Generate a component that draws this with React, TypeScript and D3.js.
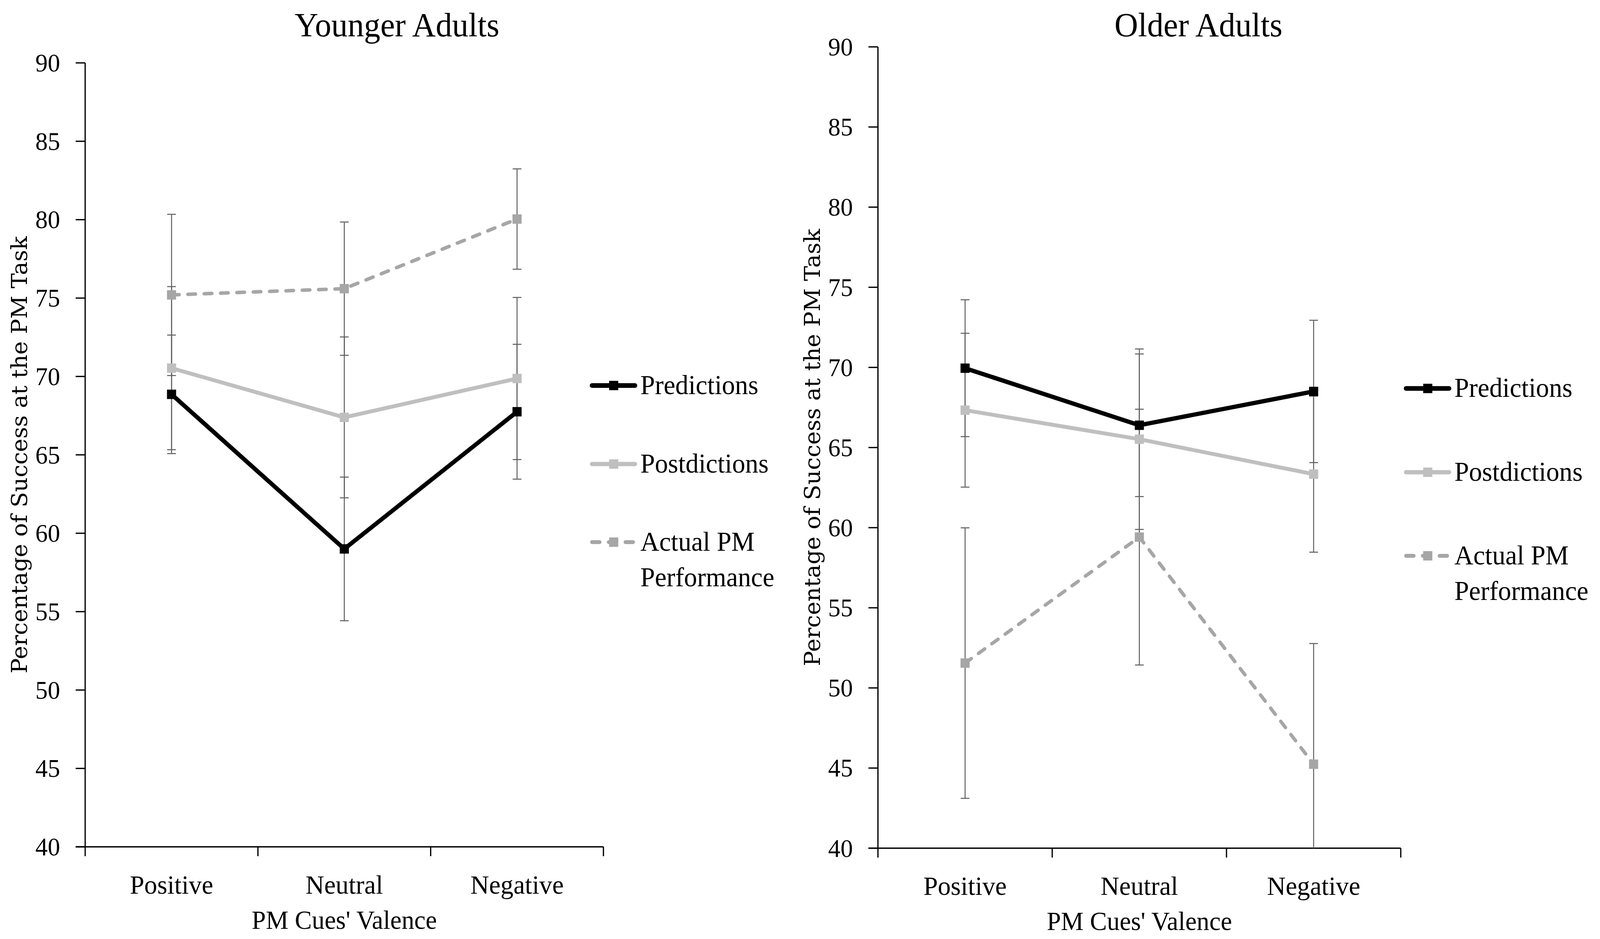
import React from 'react';
import * as d3 from 'd3';

// ---------- data ----------
const categories = ['Positive', 'Neutral', 'Negative'];
const yTicks = [40, 45, 50, 55, 60, 65, 70, 75, 80, 85, 90];
const seriesNames = ['Predictions', 'Postdictions', 'Actual PM Performance'];

const youngerPredictions = [68.86, 59.0, 67.75];
const youngerPredictionsErr = [3.78, 4.58, 4.3];
const youngerPostdictions = [70.53, 67.39, 69.87];
const youngerPostdictionsErr = [5.2, 5.13, 5.17];
const youngerActual = [75.2, 75.6, 80.04];
const youngerActualErr = [5.14, 4.25, 3.2];

const olderPredictions = [69.95, 66.39, 68.5];
const olderPredictionsErr = [4.27, 4.45, 4.44];
const olderPostdictions = [67.33, 65.52, 63.34];
const olderPostdictionsErr = [4.8, 5.63, 4.87];
const olderActual = [51.55, 59.41, 45.24];
const olderActualErr = [8.44, 7.98, 7.53];

// ---------- styles ----------
const seriesStyles = [
  { color: '#000000', width: 11, dash: undefined as string | undefined },
  { color: '#bfbfbf', width: 10, dash: undefined as string | undefined },
  { color: '#a6a6a6', width: 9, dash: '20 23' },
];
const SERIF = '"Liberation Serif", "Times New Roman", serif';
const WIDE_SERIF = '"DejaVu Serif", serif';

type PanelProps = {
  title: string;
  values: number[][];
  errors: number[][];
  x0: number;
  x1: number;
  y0: number;
  y1: number;
  titleX: number;
  yLabelX: number;
  legendX: number;
  legendY: number[];
};

function Panel(p: PanelProps) {
  const x = d3.scaleBand<string>().domain(categories).range([p.x0, p.x1]).padding(0);
  const y = d3.scaleLinear().domain([40, 90]).range([p.y1, p.y0]);
  const bw = x.bandwidth();
  const cx = (c: string) => (x(c) as number) + bw / 2;
  const yMin = y.domain()[0];
  const line = d3
    .line<number>()
    .x((_, i) => cx(categories[i]))
    .y((v) => y(v));

  const boundaries = d3.range(categories.length + 1).map((i) => p.x0 + i * bw);
  const plotMidX = (p.x0 + p.x1) / 2;
  const plotMidY = (p.y0 + p.y1) / 2;

  return (
    <g>
      <text x={p.titleX} y={93} textAnchor="middle" fontFamily={SERIF} fontSize={86} fill="#000">
        {p.title}
      </text>

      {/* y axis */}
      <line x1={p.x0} x2={p.x0} y1={p.y0} y2={p.y1} stroke="#000" strokeWidth={3.3} />
      {yTicks.map((t) => (
        <g key={t}>
          <line x1={p.x0 - 25} x2={p.x0} y1={y(t)} y2={y(t)} stroke="#000" strokeWidth={3.3} />
          <text
            x={p.x0 - 66}
            y={y(t)}
            dy="0.34em"
            textAnchor="end"
            fontFamily={SERIF}
            fontSize={65}
            fill="#000"
          >
            {t}
          </text>
        </g>
      ))}
      <text
        transform={`translate(${p.yLabelX},${plotMidY}) rotate(-90)`}
        textAnchor="middle"
        fontFamily={WIDE_SERIF}
        fontSize={58}
        fill="#000"
      >
        Percentage of Success at the PM Task
      </text>

      {/* x axis */}
      <line x1={p.x0 - 25} x2={p.x1} y1={p.y1} y2={p.y1} stroke="#000" strokeWidth={3.3} />
      {boundaries.map((b, i) => (
        <line key={i} x1={b} x2={b} y1={p.y1} y2={p.y1 + 24} stroke="#000" strokeWidth={3.3} />
      ))}
      {categories.map((c) => (
        <text
          key={c}
          x={cx(c)}
          y={p.y1 + 120}
          textAnchor="middle"
          fontFamily={SERIF}
          fontSize={68}
          fill="#000"
        >
          {c}
        </text>
      ))}
      <text x={plotMidX} y={p.y1 + 210} textAnchor="middle" fontFamily={SERIF} fontSize={67} fill="#000">
        PM Cues' Valence
      </text>

      {/* error bars */}
      {p.values.map((vals, s) =>
        vals.map((v, i) => {
          const e = p.errors[s][i];
          const hi = v + e;
          const lo = v - e;
          const X = cx(categories[i]);
          const loC = Math.max(lo, yMin);
          return (
            <g key={`e${s}-${i}`} stroke="#606060" strokeWidth={2.6}>
              <line x1={X} x2={X} y1={y(hi)} y2={y(loC)} />
              <line x1={X - 11.5} x2={X + 11.5} y1={y(hi)} y2={y(hi)} />
              {lo >= yMin && <line x1={X - 11.5} x2={X + 11.5} y1={y(lo)} y2={y(lo)} />}
            </g>
          );
        })
      )}

      {/* lines and markers */}
      {p.values.map((vals, s) => {
        const st = seriesStyles[s];
        return (
          <g key={`s${s}`}>
            <path
              d={line(vals) || ''}
              fill="none"
              stroke={st.color}
              strokeWidth={st.width}
              strokeDasharray={st.dash}
              strokeLinecap={st.dash ? 'round' : 'butt'}
              strokeLinejoin="round"
            />
            {vals.map((v, i) => (
              <rect
                key={i}
                x={cx(categories[i]) - 12}
                y={y(v) - 12}
                width={24}
                height={24}
                fill={st.color}
              />
            ))}
          </g>
        );
      })}

      {/* legend */}
      {seriesNames.map((name, s) => {
        const st = seriesStyles[s];
        const ly = p.legendY[s];
        const lx = p.legendX;
        const words = s === 2 ? ['Actual PM', 'Performance'] : [name];
        return (
          <g key={name}>
            <line
              x1={lx + 5}
              x2={lx + 118}
              y1={ly}
              y2={ly}
              stroke={st.color}
              strokeWidth={st.width + 1}
              strokeDasharray={st.dash ? '20 24' : undefined}
              strokeLinecap="round"
            />
            <rect x={lx + 62 - 12} y={ly - 12} width={24} height={24} fill={st.color} />
            {words.map((w, k) => (
              <text
                key={w}
                x={lx + 132}
                y={ly + 22 + k * 91}
                fontFamily={SERIF}
                fontSize={69}
                fill="#000"
              >
                {w}
              </text>
            ))}
          </g>
        );
      })}
    </g>
  );
}

export default function App() {
  return (
    <svg
      viewBox="0 0 4208 2404"
      preserveAspectRatio="none"
      style={{
        position: 'fixed',
        left: 0,
        top: 0,
        width: '100vw',
        height: '100vh',
        display: 'block',
        background: '#fff',
      }}
    >
      <rect x={0} y={0} width={4208} height={2404} fill="#fff" />
      <Panel
        title="Younger Adults"
        values={[youngerPredictions, youngerPostdictions, youngerActual]}
        errors={[youngerPredictionsErr, youngerPostdictionsErr, youngerActualErr]}
        x0={224}
        x1={1587}
        y0={161}
        y1={2168}
        titleX={1044}
        yLabelX={71}
        legendX={1552}
        legendY={[987, 1188, 1388]}
      />
      <Panel
        title="Older Adults"
        values={[olderPredictions, olderPostdictions, olderActual]}
        errors={[olderPredictionsErr, olderPostdictionsErr, olderActualErr]}
        x0={2309}
        x1={3684}
        y0={120}
        y1={2171.5}
        titleX={3152}
        yLabelX={2156}
        legendX={3693}
        legendY={[994.5, 1209, 1423]}
      />
    </svg>
  );
}
